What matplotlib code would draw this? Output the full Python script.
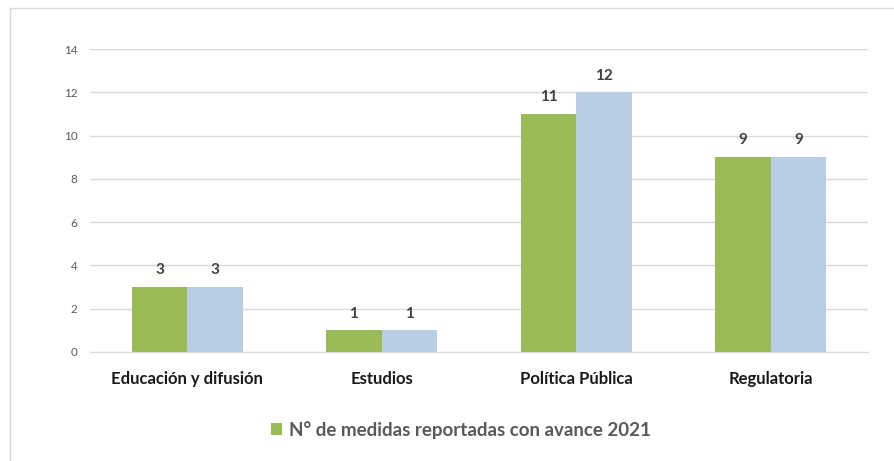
import matplotlib.pyplot as plt
from matplotlib.patches import Rectangle
import numpy as np

# Data
categories = ["Educación y difusión", "Estudios", "Política Pública", "Regulatoria"]
medidas_avance = [3, 1, 11, 9]
medidas_total = [3, 1, 12, 9]
legend_label = "N° de medidas reportadas con avance 2021"

green = "#9BBB59"
blue = "#B9CDE5"
grid_color = "#D9D9D9"

plt.rcParams['font.family'] = ['Lato', 'DejaVu Sans']

fig = plt.figure(figsize=(8.95, 4.61), dpi=100)
ax = fig.add_axes([90 / 895, 1 - 352 / 461, 778 / 895, 303 / 461])

x = np.arange(len(categories))
width = 0.286
b1 = ax.bar(x - width / 2, medidas_avance, width, color=green, label=legend_label)
b2 = ax.bar(x + width / 2, medidas_total, width, color=blue)

for bars in (b1, b2):
    for rect in bars:
        h = rect.get_height()
        ax.annotate(f"{h:g}", (rect.get_x() + rect.get_width() / 2, h),
                    xytext=(0, 7), textcoords="offset points",
                    ha="center", va="bottom", fontsize=11,
                    fontweight="bold", color="#404040")

ax.set_xlim(-0.5, len(categories) - 0.5)
ax.set_ylim(0, 14)
ax.set_yticks(range(0, 15, 2))
ax.yaxis.grid(True, color=grid_color, linewidth=1)
ax.set_axisbelow(True)
for s in ("top", "right", "left"):
    ax.spines[s].set_visible(False)
ax.spines["bottom"].set_color(grid_color)
ax.tick_params(axis="y", length=0, labelsize=8.5, labelcolor="#595959", pad=9)
ax.tick_params(axis="x", length=0, pad=14)
ax.set_xticks(x)
ax.set_xticklabels(categories, fontsize=12, fontweight="bold", color="#1a1a1a")

leg = fig.legend(handles=[b1], labels=[legend_label], loc="center",
                 bbox_to_anchor=(461 / 895, 1 - 430 / 461), frameon=False,
                 handlelength=0.6, handleheight=0.6, handletextpad=0.4,
                 prop={"size": 13.5, "weight": "bold"})
for t in leg.get_texts():
    t.set_color("#595959")

# light outer frame (top and left edges visible)
fig.patches.append(Rectangle((10 / 895, -0.1), 1.0, 1 - 8 / 461 + 0.1,
                             transform=fig.transFigure, fill=False,
                             edgecolor="#D9D9D9", linewidth=1))

fig.savefig("out.png", dpi=100)
